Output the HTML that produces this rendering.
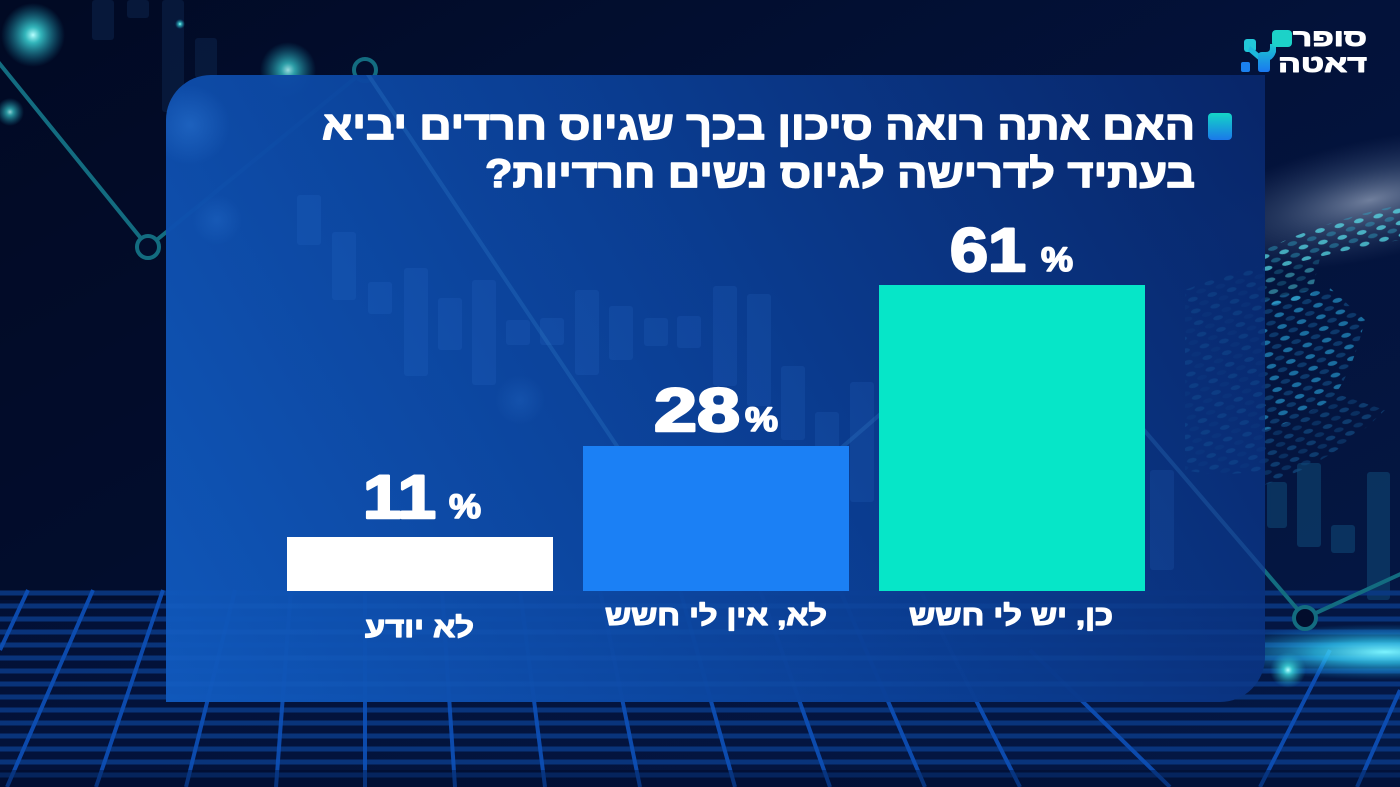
<!DOCTYPE html>
<html>
<head>
<meta charset="utf-8">
<style>
html,body{margin:0;padding:0;background:#020d2c;}
svg{display:block;}
text{font-family:"Liberation Sans","DejaVu Sans",sans-serif;font-weight:bold;fill:#ffffff;stroke:#ffffff;stroke-linejoin:round;}
</style>
</head>
<body>
<svg width="1400" height="787" viewBox="0 0 1400 787" xmlns="http://www.w3.org/2000/svg">
<defs>
  <linearGradient id="bg" x1="0" y1="0" x2="1" y2="1">
    <stop offset="0" stop-color="#010a24"/>
    <stop offset="0.5" stop-color="#03123a"/>
    <stop offset="1" stop-color="#041845"/>
  </linearGradient>
  <linearGradient id="panel" x1="166" y1="702" x2="1265" y2="75" gradientUnits="userSpaceOnUse">
    <stop offset="0" stop-color="#1059bd"/>
    <stop offset="0.5" stop-color="#0b4097"/>
    <stop offset="1" stop-color="#08266a"/>
  </linearGradient>
  <radialGradient id="glowC">
    <stop offset="0" stop-color="#b8ffff" stop-opacity="1"/>
    <stop offset="0.25" stop-color="#3fe0e0" stop-opacity="0.8"/>
    <stop offset="1" stop-color="#1aa0c0" stop-opacity="0"/>
  </radialGradient>
  <radialGradient id="glowB">
    <stop offset="0" stop-color="#3a8ae8" stop-opacity="0.35"/>
    <stop offset="1" stop-color="#3a8ae8" stop-opacity="0"/>
  </radialGradient>
  <radialGradient id="haze">
    <stop offset="0" stop-color="#b8c6dc" stop-opacity="0.6"/>
    <stop offset="0.5" stop-color="#7088aa" stop-opacity="0.3"/>
    <stop offset="1" stop-color="#4a6090" stop-opacity="0"/>
  </radialGradient>
  <radialGradient id="cyanBand">
    <stop offset="0" stop-color="#7cf4ff" stop-opacity="1"/>
    <stop offset="0.4" stop-color="#2ec8f0" stop-opacity="0.75"/>
    <stop offset="1" stop-color="#1080d0" stop-opacity="0"/>
  </radialGradient>
  <linearGradient id="bullet" x1="0" y1="0" x2="0" y2="1">
    <stop offset="0" stop-color="#14d6c6"/>
    <stop offset="1" stop-color="#1a78ea"/>
  </linearGradient>
  <linearGradient id="logoBar" x1="0" y1="0" x2="0" y2="1">
    <stop offset="0" stop-color="#1cc8d0"/>
    <stop offset="1" stop-color="#1a78f0"/>
  </linearGradient>
  <pattern id="dotsA" width="20" height="12" patternUnits="userSpaceOnUse" patternTransform="rotate(-14)">
    <ellipse cx="5" cy="3" rx="5" ry="2.2" fill="#5ae4ee"/>
    <ellipse cx="15" cy="9" rx="5" ry="2.2" fill="#2ea8c8" opacity="0.6"/>
  </pattern>
  <pattern id="dotsB" width="20" height="12" patternUnits="userSpaceOnUse" patternTransform="rotate(-14)">
    <ellipse cx="5" cy="3" rx="5" ry="2.2" fill="#2aa8e0"/>
    <ellipse cx="15" cy="9" rx="5" ry="2.2" fill="#1a6aa8" opacity="0.7"/>
  </pattern>
  <pattern id="dotsC" width="20" height="12" patternUnits="userSpaceOnUse" patternTransform="rotate(-14)">
    <ellipse cx="5" cy="3" rx="5" ry="2.2" fill="#1a6aa8"/>
    <ellipse cx="15" cy="9" rx="5" ry="2.2" fill="#124e88"/>
  </pattern>
  <clipPath id="panelClip">
    <path d="M211,75 H1265 V657 A45,45 0 0 1 1220,702 H166 V120 A45,45 0 0 1 211,75 Z"/>
  </clipPath>
</defs>

<!-- background -->
<rect x="0" y="0" width="1400" height="787" fill="url(#bg)"/>
<rect x="0" y="0" width="170" height="600" fill="#010a24" opacity="0.5"/>

<!-- faint background candlesticks top-left -->
<g fill="#0b2248" opacity="0.6">
  <rect x="162" y="0" width="22" height="112" rx="3"/>
  <rect x="92" y="0" width="22" height="40" rx="3"/>
  <rect x="127" y="0" width="22" height="18" rx="3"/>
  <rect x="195" y="38" width="22" height="40" rx="3"/>
</g>

<!-- haze + globe dots right -->
<ellipse cx="1370" cy="200" rx="190" ry="60" fill="url(#haze)" transform="rotate(-12 1370 200)"/>
<path d="M1265,250 Q1320,222 1400,205 V240 Q1330,252 1265,272 Z" fill="url(#dotsA)" opacity="0.7"/>
<path d="M1265,272 Q1300,262 1320,258 L1310,300 Q1290,300 1265,306 Z" fill="url(#dotsA)" opacity="0.45"/>
<path d="M1265,300 Q1290,292 1330,288 L1365,320 Q1350,380 1330,400 Q1300,420 1265,430 Z" fill="url(#dotsB)" opacity="0.6"/>
<path d="M1265,430 Q1300,420 1340,395 L1385,410 Q1340,455 1290,475 L1265,485 Z" fill="url(#dotsC)" opacity="0.45"/>

<!-- right candlesticks -->
<g fill="#0f4a78" opacity="0.55">
  <rect x="1267" y="482" width="20" height="46" rx="3"/>
  <rect x="1297" y="463" width="24" height="84" rx="3"/>
  <rect x="1331" y="525" width="24" height="28" rx="3"/>
  <rect x="1367" y="472" width="23" height="128" rx="3"/>
</g>

<!-- bottom grid -->
<g stroke="#0b3a86" stroke-width="5" opacity="0.85">
  <line x1="0" y1="593" x2="1400" y2="593"/>
  <line x1="0" y1="606" x2="1400" y2="606"/>
  <line x1="0" y1="619" x2="1400" y2="619"/>
  <line x1="0" y1="632" x2="1400" y2="632"/>
  <line x1="0" y1="645" x2="1400" y2="645"/>
  <line x1="0" y1="658" x2="1400" y2="658"/>
  <line x1="0" y1="671" x2="1400" y2="671"/>
  <line x1="0" y1="684" x2="1400" y2="684"/>
  <line x1="0" y1="697" x2="1400" y2="697"/>
  <line x1="0" y1="710" x2="1400" y2="710"/>
  <line x1="0" y1="723" x2="1400" y2="723"/>
  <line x1="0" y1="736" x2="1400" y2="736"/>
  <line x1="0" y1="749" x2="1400" y2="749"/>
  <line x1="0" y1="762" x2="1400" y2="762"/>
  <line x1="0" y1="775" x2="1400" y2="775"/>
</g>
<g stroke="#0d50b8" stroke-width="4" opacity="0.9">
  <line x1="28" y1="590" x2="0" y2="650"/>
  <line x1="93" y1="590" x2="7" y2="787"/>
  <line x1="163" y1="590" x2="96" y2="787"/>
  <line x1="235" y1="590" x2="186" y2="787"/>
  <line x1="291" y1="590" x2="276" y2="787"/>
  <line x1="365" y1="590" x2="365" y2="787"/>
  <line x1="442" y1="590" x2="455" y2="787"/>
  <line x1="520" y1="590" x2="545" y2="787"/>
  <line x1="600" y1="590" x2="640" y2="787"/>
  <line x1="680" y1="590" x2="735" y2="787"/>
  <line x1="760" y1="590" x2="830" y2="787"/>
  <line x1="840" y1="590" x2="925" y2="787"/>
  <line x1="920" y1="590" x2="1020" y2="787"/>
  <line x1="1030" y1="650" x2="1170" y2="787"/>
  <line x1="1330" y1="650" x2="1260" y2="787"/>
  <line x1="1400" y1="690" x2="1357" y2="787"/>
</g>
<rect x="0" y="770" width="1400" height="17" fill="#010a24" opacity="0.35"/>

<!-- cyan glow band right -->
<ellipse cx="1385" cy="652" rx="175" ry="28" fill="url(#cyanBand)"/>
<circle cx="1288" cy="670" r="18" fill="url(#glowC)"/>

<!-- teal line chart (background) -->
<g stroke="#136c80" stroke-width="4" fill="none" stroke-linejoin="round">
  <polyline points="-5,58 148,247 365,70 700,570 1024,290 1305,618 1405,572"/>
</g>
<g stroke="#136c80" stroke-width="4" fill="#020d2c">
  <circle cx="148" cy="247" r="11"/>
  <circle cx="365" cy="70" r="11"/>
  <circle cx="1305" cy="618" r="11"/>
</g>

<!-- glows top-left -->
<circle cx="33" cy="35" r="32" fill="url(#glowC)"/>
<circle cx="10" cy="112" r="14" fill="url(#glowC)" opacity="0.8"/>
<circle cx="288" cy="70" r="28" fill="url(#glowC)" opacity="0.85"/>
<circle cx="180" cy="24" r="5" fill="url(#glowC)"/>

<!-- panel -->
<path d="M211,75 H1265 V657 A45,45 0 0 1 1220,702 H166 V120 A45,45 0 0 1 211,75 Z" fill="url(#panel)" opacity="0.97"/>

<g clip-path="url(#panelClip)">
  <g fill="#3a80e0" opacity="0.13">
    <rect x="297" y="195" width="24" height="50" rx="3"/>
    <rect x="332" y="232" width="24" height="68" rx="3"/>
    <rect x="368" y="282" width="24" height="32" rx="3"/>
    <rect x="404" y="268" width="24" height="108" rx="3"/>
    <rect x="438" y="298" width="24" height="52" rx="3"/>
    <rect x="472" y="280" width="24" height="105" rx="3"/>
    <rect x="506" y="320" width="24" height="25" rx="3"/>
    <rect x="540" y="318" width="24" height="27" rx="3"/>
    <rect x="575" y="290" width="24" height="85" rx="3"/>
    <rect x="609" y="306" width="24" height="54" rx="3"/>
    <rect x="644" y="318" width="24" height="28" rx="3"/>
    <rect x="677" y="316" width="24" height="32" rx="3"/>
    <rect x="713" y="286" width="24" height="100" rx="3"/>
    <rect x="747" y="294" width="24" height="112" rx="3"/>
    <rect x="781" y="366" width="24" height="74" rx="3"/>
    <rect x="815" y="412" width="24" height="54" rx="3"/>
    <rect x="850" y="382" width="24" height="120" rx="3"/>
    <rect x="1150" y="470" width="24" height="100" rx="3"/>
  </g>
  <g stroke="#2a78d8" stroke-width="5" opacity="0.08">
    <line x1="166" y1="606" x2="1265" y2="606"/>
    <line x1="166" y1="632" x2="1265" y2="632"/>
    <line x1="166" y1="658" x2="1265" y2="658"/>
    <line x1="166" y1="684" x2="1265" y2="684"/>
  </g>
  <path d="M1185,290 Q1230,272 1265,265 V470 Q1220,478 1185,470 Z" fill="url(#dotsB)" opacity="0.12"/>
  <polyline points="365,70 700,570 1024,290 1305,618" stroke="#3a8ad0" stroke-width="4" fill="none" opacity="0.22"/>
  <circle cx="190" cy="125" r="40" fill="url(#glowB)"/>
  <circle cx="217" cy="220" r="25" fill="url(#glowB)" opacity="0.6"/>
  <circle cx="520" cy="400" r="25" fill="url(#glowB)" opacity="0.5"/>
</g>

<!-- title -->
<rect x="1208" y="113" width="24" height="27" rx="4" fill="url(#bullet)"/>
<text x="758.5" y="139" font-size="40" stroke-width="1.4" text-anchor="middle" style="direction:rtl;unicode-bidi:embed" textLength="873" lengthAdjust="spacingAndGlyphs">האם אתה רואה סיכון בכך שגיוס חרדים יביא</text>
<text x="840" y="187" font-size="40" stroke-width="1.4" text-anchor="middle" style="direction:rtl;unicode-bidi:embed" textLength="710" lengthAdjust="spacingAndGlyphs">בעתיד לדרישה לגיוס נשים חרדיות?</text>

<!-- bars -->
<rect x="287" y="537" width="266" height="54" fill="#ffffff"/>
<rect x="583" y="446" width="266" height="145" fill="#1b80f5"/>
<rect x="879" y="285" width="266" height="306" fill="#06e6c8"/>

<!-- values -->
<text x="950" y="271" font-size="61" stroke-width="2.5" textLength="76" lengthAdjust="spacingAndGlyphs">61</text>
<text x="1041" y="271" font-size="34" stroke-width="1.6" textLength="32" lengthAdjust="spacingAndGlyphs">%</text>
<text x="654" y="431" font-size="61" stroke-width="2.5" textLength="86" lengthAdjust="spacingAndGlyphs">28</text>
<text x="745" y="431" font-size="34" stroke-width="1.6" textLength="33" lengthAdjust="spacingAndGlyphs">%</text>
<text x="363" y="518" font-size="61" stroke-width="2.5" textLength="73" lengthAdjust="spacingAndGlyphs">11</text>
<text x="449" y="518" font-size="34" stroke-width="1.6" textLength="32" lengthAdjust="spacingAndGlyphs">%</text>

<!-- category labels -->
<text x="1011" y="625" font-size="28" stroke-width="1.2" text-anchor="middle" style="direction:rtl;unicode-bidi:embed" textLength="204" lengthAdjust="spacingAndGlyphs">כן, יש לי חשש</text>
<text x="716" y="625" font-size="28" stroke-width="1.2" text-anchor="middle" style="direction:rtl;unicode-bidi:embed" textLength="222" lengthAdjust="spacingAndGlyphs">לא, אין לי חשש</text>
<text x="419.5" y="637" font-size="28" stroke-width="1.2" text-anchor="middle" style="direction:rtl;unicode-bidi:embed" textLength="109" lengthAdjust="spacingAndGlyphs">לא יודע</text>

<!-- logo -->
<g>
  <rect x="1244" y="39" width="12" height="13" rx="3" fill="#22c8d8"/>
  <path d="M1250,46 L1262,56 L1262,63 L1248,51 Z" fill="#1cb8dc"/>
  <path d="M1258,56 Q1258,52 1262,52 L1266,52 Q1270,52 1270,48 L1270,44 L1276,44 L1276,52 Q1274,58 1270,60 L1270,69 Q1270,72 1267,72 L1261,72 Q1258,72 1258,69 Z" fill="url(#logoBar)"/>
  <rect x="1272" y="30" width="20" height="17" rx="4" fill="#1cd2c8"/>
  <rect x="1241" y="62" width="9" height="10" rx="2" fill="#1a80ee"/>
  <text x="1330" y="46" font-size="24" stroke-width="1" text-anchor="middle" style="direction:rtl;unicode-bidi:embed" textLength="74" lengthAdjust="spacingAndGlyphs">סופר</text>
  <text x="1322.5" y="72" font-size="24" stroke-width="1" text-anchor="middle" style="direction:rtl;unicode-bidi:embed" textLength="89" lengthAdjust="spacingAndGlyphs">דאטה</text>
</g>
</svg>
</body>
</html>
